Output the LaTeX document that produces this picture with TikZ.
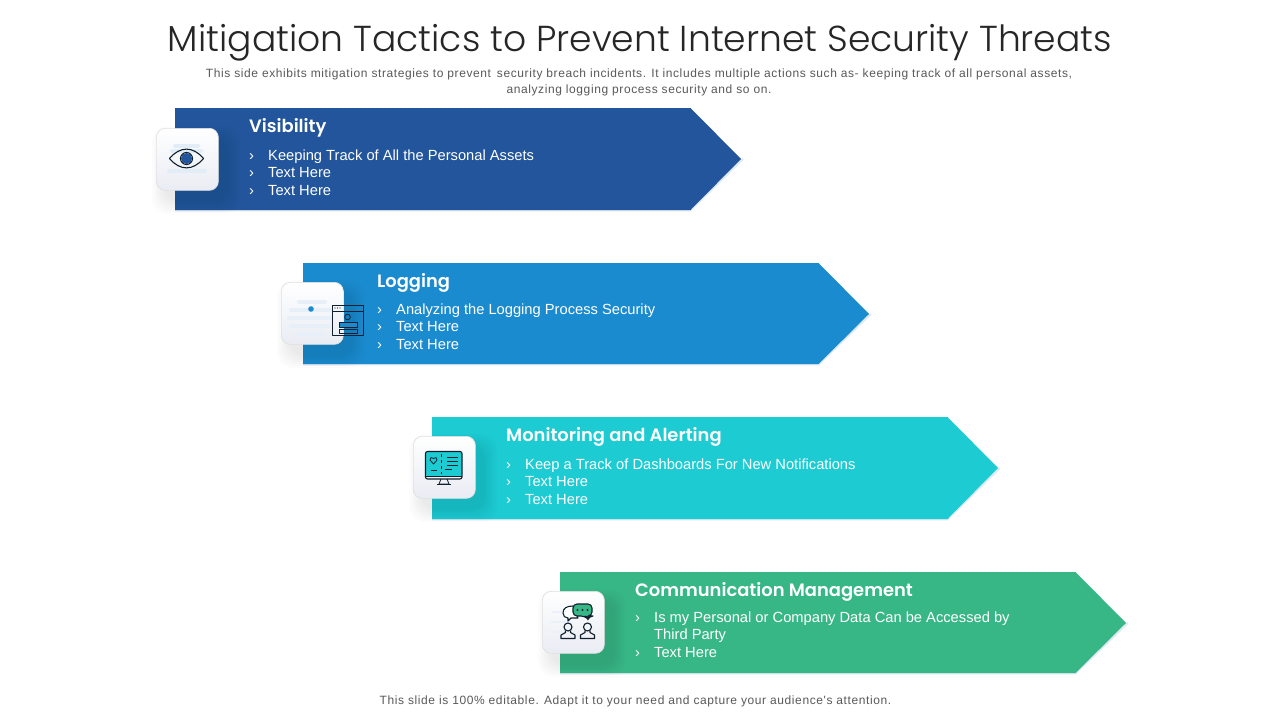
\documentclass[tikz,border=0pt]{standalone}
\usepackage{fontspec}
\setmainfont{Liberation Sans}
\newfontfamily\titlefont{Poppins Light}
\newfontfamily\headfont{Poppins SemiBold}
\newfontfamily\notefont[LetterSpace = 5]{Liberation Sans}
\usetikzlibrary{calc, positioning}
\definecolor{visblue}{HTML}{22559B}
\definecolor{logblue}{HTML}{1B8BCF}
\definecolor{montea}{HTML}{1DCBD3}
\definecolor{comgreen}{HTML}{38B786}
\definecolor{inkdark}{HTML}{10202E}
\definecolor{paleblue}{HTML}{DCE8F5}
\definecolor{greytext}{HTML}{595959}
\definecolor{boxgrey}{HTML}{E9ECF3}
\tikzset{
	heading/.style = { anchor = base west, inner sep = 0, text = white, font = \headfont\fontsize{17.9}{22}\selectfont },
	bodytext/.style = { anchor = base west, inner sep = 0, text = white, font = \fontsize{14.7}{17.5}\selectfont },
	notetext/.style = { inner sep = 0, text = greytext, align = center, font = \notefont\fontsize{12}{16}\selectfont },
	iconbox/.style = { minimum size = 62pt, inner sep = 0, rounded corners = 9pt, draw = black!12, line width = 0.7pt, top color = white, bottom color = boxgrey },
	iconline/.style = { draw = inkdark, line width = 1.1pt, line join = round },
	smudge/.style = { draw = paleblue, line width = 4pt, line cap = round }
}

\begin{document}
\begin{tikzpicture}[x = 1pt, y = -1pt]
	\useasboundingbox [fill = white] (0, 0) rectangle (1280, 720);

	\node [inner sep = 0, text = black!85, font = \titlefont\fontsize{36.1}{42}\selectfont] (maintitle) at (640, 43) {Mitigation Tactics to Prevent Internet Security Threats};
	\node [notetext] (subtitle) at (639, 82.5) {This side exhibits mitigation strategies to prevent\, security breach incidents. It includes multiple actions such as- keeping track of all personal assets,\\analyzing logging process security and so on.};
	\node [notetext] (footnote) at (635.5, 701) {This slide is 100\% editable. Adapt it to your need and capture your audience's attention.};

	% arrows: left, top, height, colour, box left, box top
	\foreach \i / \l / \t / \h / \col / \bx / \by in {1/175/108/102/visblue/156/128, 2/303/263/101/logblue/281/282, 3/432/417/102/montea/413/436, 4/560/572/101/comgreen/542/591} {
		\draw [paleblue, line width = 1.6pt] (\l, \t + \h + 0.5) -- (\l + 515.5, \t + \h + 0.5) -- (\l + 568, \t + 51);
		\fill [\col] (\l, \t) -- (\l + 515.5, \t) -- (\l + 566, \t + 51) -- (\l + 515.5, \t + \h) -- (\l, \t + \h) -- cycle;
		\foreach \g in {14, 12, 10, 8, 6, 4, 2} {
			\fill [black, opacity = 0.012, rounded corners = 16pt] (\bx + 10 - \g, \by + 12 - \g) rectangle (\bx + 62 + 8 + \g, \by + 62 + 10 + \g);
		}
		\node [iconbox, anchor = north west] (box\i) at (\bx, \by) {};
	}

	% band texts
	\node [heading] (headA) at (249, 132.5) {Visibility};
	\foreach \n / \y / \txt in {1/160/Keeping Track of All the Personal Assets, 2/177.5/Text Here, 3/195/Text Here} {
		\node [bodytext] (markA\n) at (249, \y) {›};
		\node [bodytext] (lineA\n) at (268, \y) {\txt};
	}
	\node [heading] (headB) at (377, 287.5) {Logging};
	\foreach \n / \y / \txt in {1/314/Analyzing the Logging Process Security, 2/331.5/Text Here, 3/349/Text Here} {
		\node [bodytext] (markB\n) at (377, \y) {›};
		\node [bodytext] (lineB\n) at (396, \y) {\txt};
	}
	\node [heading] (headC) at (506, 441.5) {Monitoring and Alerting};
	\foreach \n / \y / \txt in {1/469/Keep a Track of Dashboards For New Notifications, 2/486.5/Text Here, 3/504/Text Here} {
		\node [bodytext] (markC\n) at (506, \y) {›};
		\node [bodytext] (lineC\n) at (525, \y) {\txt};
	}
	\node [heading] (headD) at (635, 596.5) {Communication Management};
	\node [bodytext] (markD1) at (635, 622) {›};
	\node [bodytext] (lineD1) at (654, 622) {Is my Personal or Company Data Can be Accessed by};
	\node [bodytext] (lineD2) at (654, 639.5) {Third Party};
	\node [bodytext] (markD3) at (635, 657) {›};
	\node [bodytext] (lineD3) at (654, 657) {Text Here};

	% eye
	\foreach \y / \a / \b in {146/175/198, 151/172/201, 171/169/205} {
		\draw [smudge, paleblue!80] (\a, \y) -- (\b, \y);
	}
	\fill [visblue] (186.5, 158.5) circle (5.5);
	\draw [iconline] (186.5, 158.5) circle (6);
	\draw [iconline] (169.5, 158.5) .. controls (180, 146) and (193, 146) .. (203.5, 158.5) .. controls (193, 171) and (180, 171) .. cycle;

	% logging window
	\foreach \y / \a / \b in {302/299/325, 310/291/330, 318/289/330, 326/291/328, 334/296/322} {
		\draw [smudge, paleblue!70] (\a, \y) -- (\b, \y);
	}
	\fill [logblue] (311, 309) circle (2.8);
	\draw [iconline, line width = 0.8pt] (332.5, 305) rectangle (363, 335.5);
	\draw [iconline, line width = 0.8pt] (332.5, 311) -- (363, 311);
	\draw [iconline, line width = 0.8pt] (347.5, 317) circle (2.8);
	\fill [logblue] (339, 322) rectangle (357, 327);
	\draw [iconline, line width = 0.8pt] (339, 322) rectangle (357, 327);
	\draw [iconline, line width = 0.8pt] (339, 329) rectangle (357, 333.5);
	\foreach \x in {335, 337.5, 340} {
		\fill [inkdark] (\x, 308) circle (0.7);
	}

	% monitor
	\fill [montea, rounded corners = 2pt] (425.5, 451.5) rectangle (462, 476);
	\draw [iconline, rounded corners = 2pt] (425.5, 451.5) rectangle (462, 479);
	\draw [iconline, line width = 0.8pt] (425.5, 476) -- (462, 476);
	\draw [iconline, line width = 0.8pt] (441, 479) -- (439, 484) -- (449, 484) -- (447, 479);
	\draw [iconline, line width = 0.8pt] (437, 484) -- (451, 484);
	\draw [iconline, line width = 0.8pt, dashed] (441.5, 454) -- (441.5, 474);
	\draw [iconline, line width = 0.8pt] (433.5, 464) -- (430, 460) -- (431, 457.5) -- (433.5, 458.5) -- (436, 457.5) -- (437, 460) -- cycle;
	\foreach \y / \a / \b in {457/447/458, 461/447/458, 465/447/458, 469/445/452} {
		\draw [iconline, line width = 0.7pt] (\a, \y) -- (\b, \y);
	}
	\draw [iconline, line width = 0.7pt] (431, 470) -- (437, 470);

	% chat people
	\foreach \y / \a / \b in {612/553/572, 622/552/570, 632/553/566, 642/555/565} {
		\draw [smudge, paleblue!60, line width = 2.5pt] (\a, \y) -- (\b, \y);
	}
	\draw [iconline, fill = white] (563, 613) .. controls (563, 608) and (567, 606) .. (573, 606) -- (578, 618) -- (571, 618) -- (568, 621) -- (568, 618) .. controls (565, 618) and (563, 616) .. (563, 613) -- cycle;
	\fill [comgreen, rounded corners = 4pt] (573, 604) rectangle (592, 616);
	\draw [iconline, rounded corners = 4pt] (573, 604) -- (592, 604) -- (592, 616) -- (589, 616) -- (588, 619) -- (585, 616) -- (573, 616) -- cycle;
	\foreach \x in {577.5, 582.5, 587.5} {
		\fill [inkdark] (\x, 610) circle (1.1);
	}
	\foreach \x in {568, 587.5} {
		\draw [iconline] (\x, 627) circle (4);
		\draw [iconline] (\x - 2.5, 630.5) -- (\x - 2.5, 632.5) -- (\x - 7, 635) -- (\x - 7, 638.5) -- (\x + 7, 638.5) -- (\x + 7, 635) -- (\x + 2.5, 632.5) -- (\x + 2.5, 630.5);
	}
\end{tikzpicture}
\end{document}
